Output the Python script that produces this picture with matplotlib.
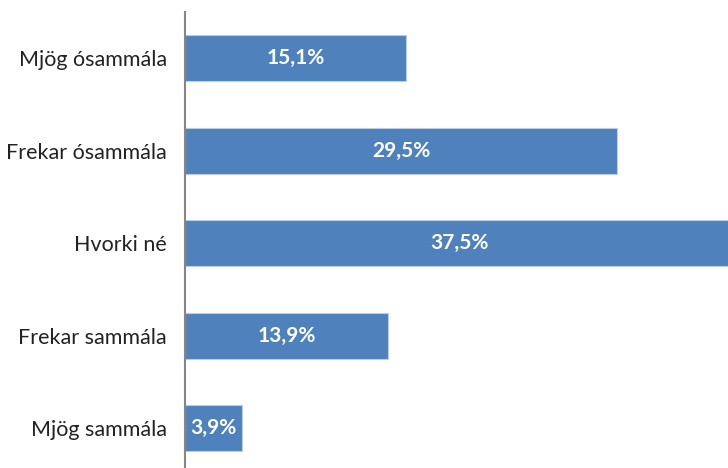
import matplotlib.pyplot as plt

flokkar = ["Mjög ósammála", "Frekar ósammála", "Hvorki né", "Frekar sammála", "Mjög sammála"]
hlutfall = [15.1, 29.5, 37.5, 13.9, 3.9]
merki = ["15,1%", "29,5%", "37,5%", "13,9%", "3,9%"]

plt.rcParams['font.family'] = ['Lato', 'DejaVu Sans']

fig = plt.figure(figsize=(7.28, 4.68), dpi=100)
ax = fig.add_axes([185 / 728, -6.5 / 468, 543 / 728, 462.5 / 468])

y = list(range(len(flokkar)))
bars = ax.barh(y, hlutfall, height=0.5, color="#4F81BD", edgecolor="#B9CDE5", linewidth=0.8)
ax.set_ylim(len(flokkar) - 0.5, -0.5)
ax.set_xlim(0, 37.1)

for b, m in zip(bars, merki):
    ax.text(b.get_width() / 2, b.get_y() + b.get_height() / 2, m,
            ha="center", va="center", color="white", fontsize=15, fontweight="bold")

ax.set_yticks(y)
ax.set_yticklabels(flokkar, fontsize=15.5, color="#222222")
ax.tick_params(axis="y", length=0, pad=13)
ax.set_xticks([])
for s in ["top", "right", "bottom"]:
    ax.spines[s].set_visible(False)
ax.spines["left"].set_color("#868686")
ax.spines["left"].set_linewidth(1.5)

fig.savefig("out.png", dpi=100)
